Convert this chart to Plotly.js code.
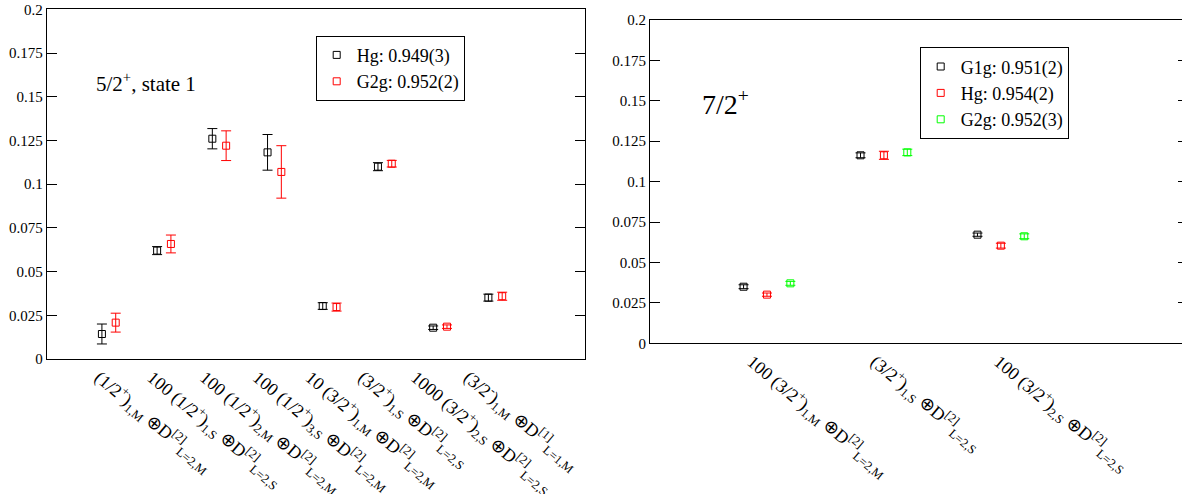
<!DOCTYPE html>
<html><head><meta charset="utf-8">
<script src="https://cdn.plot.ly/plotly-3.0.1.min.js"></script>
<style>html,body{margin:0;padding:0;overflow:hidden;background:#fff}
#warm{position:absolute;left:600px;top:460px;z-index:0;color:#fff;font:18px 'Liberation Serif'}
#chart{position:relative;z-index:1;width:1192px;height:494px}</style>
</head><body><div id="warm">0</div><div id="chart"></div>
<script>
// ---------- data: left panel (5/2+, state 1) ----------
const leftLabels = [
  '(1/2<sup>+</sup>)<sub>1,M</sub> \u2295D<sup>[2]</sup><sub>L=2,M</sub>',
  '100 (1/2<sup>+</sup>)<sub>1,S</sub> \u2295D<sup>[2]</sup><sub>L=2,S</sub>',
  '100 (1/2<sup>+</sup>)<sub>2,M</sub> \u2295D<sup>[2]</sup><sub>L=2,M</sub>',
  '100 (1/2<sup>+</sup>)<sub>3,S</sub> \u2295D<sup>[2]</sup><sub>L=2,M</sub>',
  '10 (3/2<sup>+</sup>)<sub>1,M</sub> \u2295D<sup>[2]</sup><sub>L=2,M</sub>',
  '(3/2<sup>+</sup>)<sub>1,S</sub> \u2295D<sup>[2]</sup><sub>L=2,S</sub>',
  '1000 (3/2<sup>+</sup>)<sub>2,S</sub> \u2295D<sup>[2]</sup><sub>L=2,S</sub>',
  '(3/2<sup>-</sup>)<sub>1,M</sub> \u2295D<sup>[1]</sup><sub>L=1,M</sub>'
];
const leftHg     = [0.0143, 0.0620, 0.1260, 0.1182, 0.0303, 0.1100, 0.0179, 0.0351];
const leftHgErr  = [0.0057, 0.0023, 0.0058, 0.0102, 0.0019, 0.0023, 0.0010, 0.0020];
const leftG2g    = [0.0208, 0.0658, 0.1220, 0.1070, 0.0297, 0.1117, 0.0185, 0.0359];
const leftG2gErr = [0.0054, 0.0051, 0.0085, 0.0150, 0.0023, 0.0019, 0.0010, 0.0023];
const leftNames  = ['Hg: 0.949(3)', 'G2g: 0.952(2)'];
const leftTitle  = '5/2<sup>+</sup>, state 1';

// ---------- data: right panel (7/2+) ----------
const rightLabels = [
  '100 (3/2<sup>+</sup>)<sub>1,M</sub> \u2295D<sup>[2]</sup><sub>L=2,M</sub>',
  '(3/2<sup>+</sup>)<sub>1,S</sub> \u2295D<sup>[2]</sup><sub>L=2,S</sub>',
  '100 (3/2<sup>+</sup>)<sub>2,S</sub> \u2295D<sup>[2]</sup><sub>L=2,S</sub>'
];
const rightG1g    = [0.0350, 0.1163, 0.0672];
const rightG1gErr = [0.0012, 0.0015, 0.0010];
const rightHg     = [0.0301, 0.1163, 0.0604];
const rightHgErr  = [0.0010, 0.0025, 0.0015];
const rightG2g    = [0.0371, 0.1181, 0.0662];
const rightG2gErr = [0.0012, 0.0020, 0.0015];
const rightNames  = ['G1g: 0.951(2)', 'Hg: 0.954(2)', 'G2g: 0.952(3)'];
const rightTitle  = '7/2<sup>+</sup>';

// ---------- drawing ----------
const W = 1192, H = 494;
const FONT = 'Liberation Serif';
const px = v => v / W, py = v => 1 - v / H;

function series(vals, errs, name, color, offset, xa, ya, leg) {
  return {
    type: 'scatter', mode: 'markers', name: name,
    x: vals.map((_, i) => i + 1 + offset), y: vals,
    xaxis: xa, yaxis: ya, legend: leg,
    marker: {symbol: 'square-open', size: 7, color: color, line: {width: 1, color: color}},
    error_y: {type: 'data', array: errs, visible: true, color: color, thickness: 1, width: 5}
  };
}

const traces = [
  series(leftHg, leftHgErr, leftNames[0], '#000000', 0, 'x', 'y', 'legend'),
  series(leftG2g, leftG2gErr, leftNames[1], '#ff0000', 0.25, 'x', 'y', 'legend'),
  series(rightG1g, rightG1gErr, rightNames[0], '#000000', -0.2, 'x2', 'y2', 'legend2'),
  series(rightHg, rightHgErr, rightNames[1], '#ff0000', 0, 'x2', 'y2', 'legend2'),
  series(rightG2g, rightG2gErr, rightNames[2], '#00ff00', 0.2, 'x2', 'y2', 'legend2')
];

const yAxisBase = {
  range: [0, 0.2], dtick: 0.025, tick0: 0, ticks: 'inside', ticklen: 10, tickwidth: 1, tickcolor: '#000',
  showline: true, linecolor: '#000', linewidth: 1, mirror: 'ticks', showgrid: false, zeroline: false,
  tickfont: {family: FONT, size: 15, color: '#000'}, automargin: false, fixedrange: true
};
const xAxisBase = {
  ticks: '', showline: true, linecolor: '#000', linewidth: 1, mirror: true, showgrid: false, zeroline: false,
  tickangle: 40, tickfont: {family: FONT, size: 18, color: '#000'}, automargin: false, fixedrange: true
};

const layout = {
  width: W, height: H, margin: {l: 0, r: 0, t: 0, b: 0, pad: 0},
  paper_bgcolor: '#fff', plot_bgcolor: '#fff',
  font: {family: FONT, color: '#000'},
  showlegend: true,
  xaxis: Object.assign({}, xAxisBase, {
    domain: [px(46.7), px(585)], range: [0, 9.75], anchor: 'y',
    tickmode: 'array', tickvals: leftLabels.map((_, i) => 0.95 + 0.955 * i), ticktext: leftLabels
  }),
  yaxis: Object.assign({}, yAxisBase, {domain: [py(359), py(9.33)], anchor: 'x'}),
  xaxis2: Object.assign({}, xAxisBase, {
    domain: [px(650), px(1188)], range: [0, 4.6], anchor: 'y2',
    tickmode: 'array', tickvals: rightLabels.map((_, i) => 0.87 + 1.055 * i), ticktext: rightLabels
  }),
  yaxis2: Object.assign({}, yAxisBase, {domain: [py(343.3), py(20)], anchor: 'x2'}),
  legend: {
    x: px(315.7), y: py(35.7), xanchor: 'left', yanchor: 'top',
    bordercolor: '#000', borderwidth: 1, bgcolor: '#fff',
    font: {family: FONT, size: 18, color: '#000'}, tracegroupgap: 0
  },
  legend2: {
    x: px(919.7), y: py(47.3), xanchor: 'left', yanchor: 'top',
    bordercolor: '#000', borderwidth: 1, bgcolor: '#fff',
    font: {family: FONT, size: 18, color: '#000'}, tracegroupgap: 0
  },
  annotations: [
    {text: leftTitle, xref: 'paper', yref: 'paper', x: px(94), y: py(98), xanchor: 'left', yanchor: 'bottom',
     showarrow: false, font: {family: FONT, size: 21, color: '#000'}},
    {text: rightTitle, xref: 'paper', yref: 'paper', x: px(700), y: py(122), xanchor: 'left', yanchor: 'bottom',
     showarrow: false, font: {family: FONT, size: 28, color: '#000'}}
  ]
};

const cfg = {displayModeBar: false, staticPlot: true};
Plotly.newPlot('chart', traces, layout, cfg);
if (document.fonts && document.fonts.load) {
  document.fonts.load('18px "Liberation Serif"').then(() => {
    Plotly.purge('chart');
    Plotly.newPlot('chart', traces, layout, cfg);
  });
}
</script>
</body></html>
